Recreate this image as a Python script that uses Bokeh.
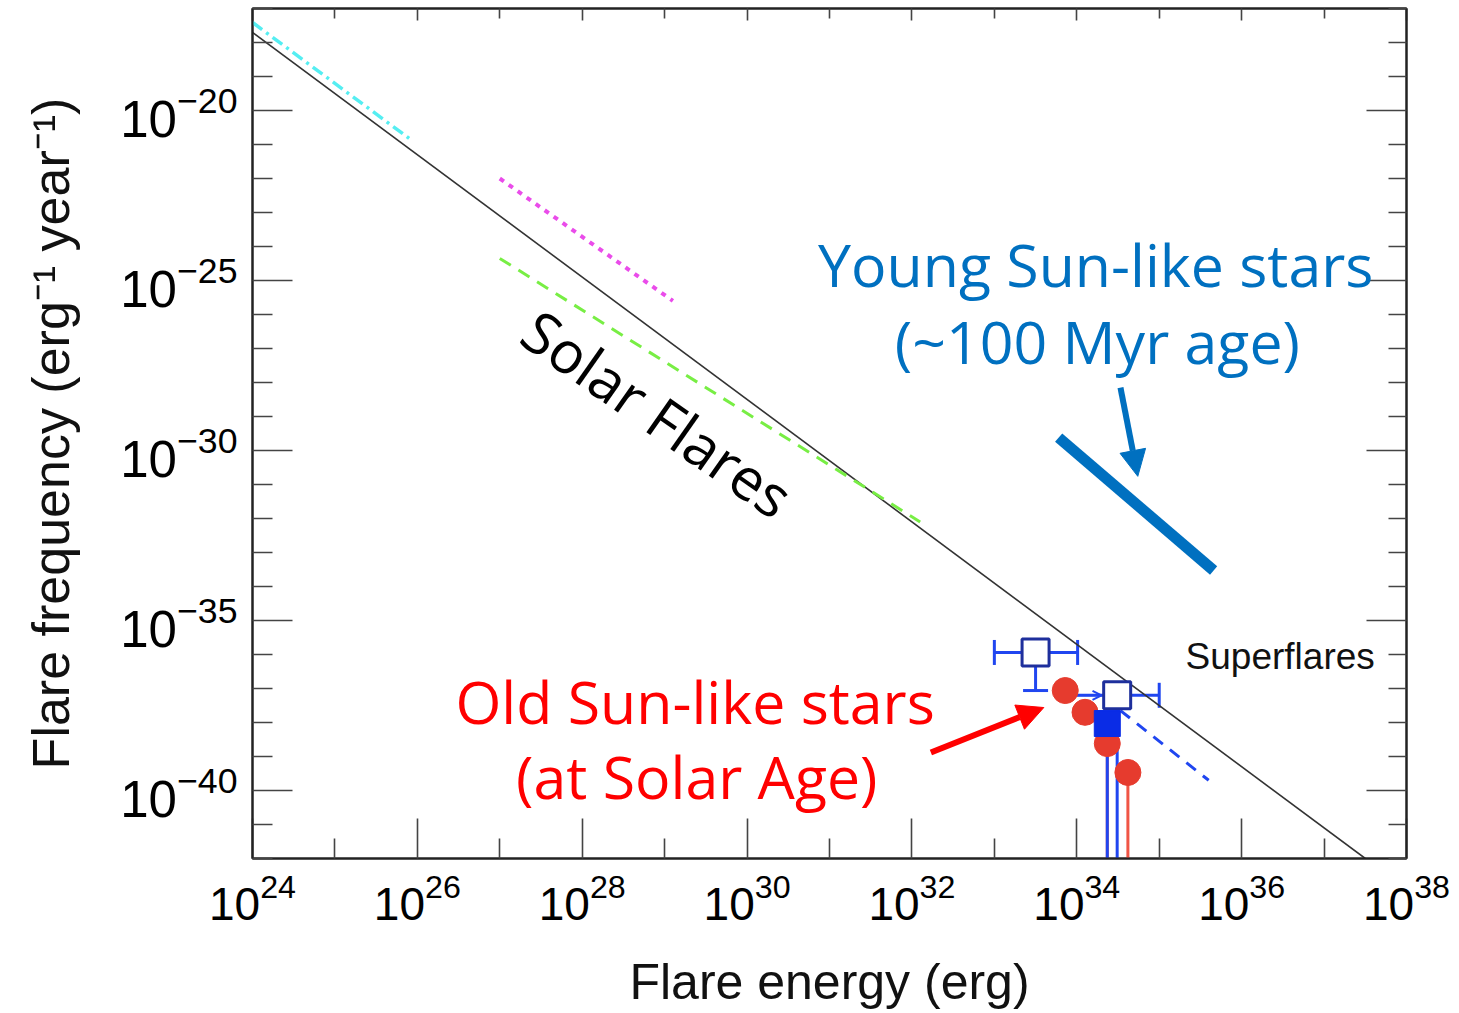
from bokeh.plotting import figure
from bokeh.models import (LogAxis, FixedTicker, CustomJSTickFormatter, LogTickFormatter, Whisker,
                          ColumnDataSource, Arrow, NormalHead, OpenHead, TeeHead, Label, Range1d)
from bokeh.embed import file_html
from bokeh.resources import INLINE

# ---------------- tick positions (decade exponents) ----------------
x_major_exp = [24, 26, 28, 30, 32, 34, 36, 38]
x_minor_exp = [25, 27, 29, 31, 33, 35, 37]
y_major_exp = [-20, -25, -30, -35, -40]
y_minor_exp = [-42, -41, -39, -38, -37, -36, -34, -33, -32, -31, -29, -28, -27, -26,
               -24, -23, -22, -21, -19, -18, -17]

# ---------------- power-law lines (log10 E, log10 F endpoints) ----------------
solar_logE = [24.0, 37.5]
solar_logF = [-17.7, -42.0]
cyan_logE = [24.0, 25.9]
cyan_logF = [-17.41, -20.82]
magenta_logE = [27.0, 29.1]
magenta_logF = [-22.0, -25.6]
green_logE = [27.0, 32.1]
green_logF = [-24.35, -32.1]
young_logE = [33.78, 35.66]
young_logF = [-29.62, -33.53]
bluedash_logE = [34.53, 35.6]
bluedash_logF = [-37.65, -39.7]

# ---------------- data points ----------------
open_logE = [33.5, 34.49]
open_logF = [-35.94, -37.2]
open_xlo = [33.0, 34.0]
open_xhi = [34.01, 35.0]
open_ylo = [-37.06, -43.0]
filled_logE = [34.37]
filled_logF = [-38.03]
filled_ylo = [-43.0]
red_logE = [33.86, 34.10, 34.37, 34.62]
red_logF = [-37.06, -37.70, -38.62, -39.47]
red_err_idx = [2, 3]
red_ylo = [-43.0, -43.0]

# ---------------- annotation text ----------------
young_text = ["Young Sun-like stars", "(~100 Myr age)"]
young_pos = [(34.23, -24.52), (34.25, -26.78)]
old_text = ["Old Sun-like stars", "(at Solar Age)"]
old_pos = [(29.37, -37.38), (29.39, -39.58)]
solar_text = "Solar Flares"
solar_pos = (28.92, -28.9)
super_text = "Superflares"
super_pos = (35.32, -36.06)
young_arrow = [(34.53, -28.15), (34.74, -30.76)]
old_arrow = [(32.23, -38.88), (33.60, -37.56)]


def p10(a):
    return [10 ** v for v in a]


BLUE_TXT = "#0070C0"
BLUE_ERR = "#2046F0"
BLUE_EDGE = "#1E2F9C"
RED_PT = "#E63B2E"

p = figure(width=1455, height=1012, x_axis_type="log", y_axis_type="log",
           x_range=Range1d(1e24, 1e38), y_range=Range1d(1e-42, 1e-17),
           output_backend="svg", toolbar_location=None, tools="",
           min_border_left=252, min_border_right=49, min_border_top=8, min_border_bottom=0,
           background_fill_color="white", border_fill_color="white")
p.grid.visible = False
p.outline_line_color = "#222222"
p.outline_line_width = 2

blank = CustomJSTickFormatter(code="return '';")

xt = FixedTicker(ticks=p10(x_major_exp), minor_ticks=p10(x_minor_exp))
yt = FixedTicker(ticks=p10(y_major_exp), minor_ticks=p10(y_minor_exp))


def style_axis(ax, major_in, minor_in):
    ax.major_tick_in = major_in
    ax.major_tick_out = 0
    ax.minor_tick_in = minor_in
    ax.minor_tick_out = 0
    ax.major_tick_line_color = "#444444"
    ax.minor_tick_line_color = "#444444"
    ax.major_tick_line_width = 1.6
    ax.minor_tick_line_width = 1.6
    ax.axis_line_color = "#222222"
    ax.axis_line_width = 2


xa = p.xaxis[0]
xa.ticker = xt
xa.formatter = LogTickFormatter()
style_axis(xa, 40, 20)
xa.major_label_text_font = "Liberation Sans"
xa.major_label_text_font_size = "46px"
xa.major_label_text_color = "black"
xa.major_label_standoff = 14
xa.axis_label = "Flare energy (erg)"
xa.axis_label_text_font = "Liberation Sans"
xa.axis_label_text_font_size = "50px"
xa.axis_label_text_font_style = "normal"
xa.axis_label_text_color = "#111111"
xa.axis_label_standoff = 31

ya = p.yaxis[0]
ya.ticker = yt
ya.formatter = LogTickFormatter()
style_axis(ya, 40, 20)
ya.major_label_text_font = "Liberation Sans"
ya.major_label_text_font_size = "51px"
ya.major_label_text_color = "black"
ya.major_label_standoff = 15
ya.axis_label = "Flare frequency (erg\u207b\u00b9 year\u207b\u00b9)"
ya.axis_label_text_font = "Liberation Sans"
ya.axis_label_text_font_size = "52px"
ya.axis_label_text_font_style = "normal"
ya.axis_label_text_color = "#111111"
ya.axis_label_standoff = 37

top = LogAxis(ticker=FixedTicker(ticks=p10(x_major_exp), minor_ticks=p10(x_minor_exp)),
              formatter=blank, major_label_text_font_size="0px", major_label_standoff=0)
style_axis(top, 12, 10)
p.add_layout(top, "above")
right = LogAxis(ticker=FixedTicker(ticks=p10(y_major_exp), minor_ticks=p10(y_minor_exp)),
                formatter=blank, major_label_text_font_size="0px", major_label_standoff=0)
style_axis(right, 40, 18)
p.add_layout(right, "right")

# ---------------- lines ----------------
p.line(p10(solar_logE), p10(solar_logF), line_color="#333333", line_width=1.6)
p.line(p10(cyan_logE), p10(cyan_logF), line_color="#55EEF2", line_width=3.5,
       line_dash="12 5 3 5")
p.line(p10(magenta_logE), p10(magenta_logF), line_color="#EA4CEA", line_width=4,
       line_dash="5 6")
p.line(p10(green_logE), p10(green_logF), line_color="#78EE44", line_width=3,
       line_dash="13 9")
p.line(p10(young_logE), p10(young_logF), line_color=BLUE_TXT, line_width=11,
       line_cap="butt")
p.line(p10(bluedash_logE), p10(bluedash_logF), line_color=BLUE_ERR, line_width=3,
       line_dash="12 9")


# ---------------- error bars ----------------
def tee(c):
    return TeeHead(size=25, line_color=c, line_width=3)


ey3 = ColumnDataSource(dict(base=[10 ** red_logE[i] for i in red_err_idx],
                            lo=p10(red_ylo),
                            hi=[10 ** red_logF[i] for i in red_err_idx]))
p.add_layout(Whisker(source=ey3, base="base", lower="lo", upper="hi", dimension="height",
                     line_color="#F05545", line_width=3, lower_head=None,
                     upper_head=None, level="underlay"))
ex1 = ColumnDataSource(dict(base=[10 ** open_logF[0]], lo=[10 ** open_xlo[0]], hi=[10 ** open_xhi[0]]))
p.add_layout(Whisker(source=ex1, base="base", lower="lo", upper="hi", dimension="width",
                     line_color=BLUE_ERR, line_width=3, lower_head=tee(BLUE_ERR),
                     upper_head=tee(BLUE_ERR), level="underlay"))
ex2 = ColumnDataSource(dict(base=[10 ** open_logF[1]], lo=[10 ** open_xlo[1]], hi=[10 ** open_xhi[1]]))
p.add_layout(Whisker(source=ex2, base="base", lower="lo", upper="hi", dimension="width",
                     line_color=BLUE_ERR, line_width=3, lower_head=None,
                     upper_head=tee(BLUE_ERR), level="underlay"))
ey1 = ColumnDataSource(dict(base=[10 ** open_logE[0]], lo=[10 ** open_ylo[0]], hi=[10 ** open_logF[0]]))
p.add_layout(Whisker(source=ey1, base="base", lower="lo", upper="hi", dimension="height",
                     line_color=BLUE_ERR, line_width=3, lower_head=tee(BLUE_ERR),
                     upper_head=None, level="underlay"))
ey2 = ColumnDataSource(dict(base=[10 ** open_logE[1], 10 ** filled_logE[0]],
                            lo=[10 ** open_ylo[1], 10 ** filled_ylo[0]],
                            hi=[10 ** open_logF[1], 10 ** filled_logF[0]]))
p.add_layout(Whisker(source=ey2, base="base", lower="lo", upper="hi", dimension="height",
                     line_color=BLUE_ERR, line_width=3, lower_head=None,
                     upper_head=None, level="underlay"))
p.add_layout(Arrow(x_start=10 ** open_xlo[1], y_start=10 ** open_logF[1],
                   x_end=10 ** (open_xlo[1] + 0.3), y_end=10 ** open_logF[1],
                   line_color=BLUE_ERR, line_width=2,
                   end=OpenHead(size=9, line_color=BLUE_ERR, line_width=2), level="underlay"))

# ---------------- points ----------------
p.scatter(p10(red_logE), p10(red_logF), marker="circle", size=26,
          fill_color=RED_PT, line_color=RED_PT)
p.scatter(p10(open_logE), p10(open_logF), marker="square", size=27,
          fill_color="white", line_color=BLUE_EDGE, line_width=3)
p.scatter(p10(filled_logE), p10(filled_logF), marker="square", size=26,
          fill_color="#0A2CE6", line_color="#0A2CE6")

# ---------------- annotations ----------------
for t, (lx, ly) in zip(young_text, young_pos):
    p.add_layout(Label(x=10 ** lx, y=10 ** ly, text=t, text_font="Open Sans",
                       text_font_size="59px", text_color=BLUE_TXT, text_align="center",
                       text_baseline="alphabetic"))
for t, (lx, ly) in zip(old_text, old_pos):
    p.add_layout(Label(x=10 ** lx, y=10 ** ly, text=t, text_font="Open Sans",
                       text_font_size="59px", text_color="#FF0000", text_align="center",
                       text_baseline="alphabetic"))
p.add_layout(Label(x=10 ** solar_pos[0], y=10 ** solar_pos[1], text=solar_text,
                   text_font="Open Sans", text_font_size="58px", text_color="black",
                   text_align="center", text_baseline="middle", angle=-0.61))
p.add_layout(Label(x=10 ** super_pos[0], y=10 ** super_pos[1], text=super_text,
                   text_font="Liberation Sans", text_font_size="37px", text_color="#111111",
                   text_align="left", text_baseline="alphabetic"))

p.add_layout(Arrow(x_start=10 ** young_arrow[0][0], y_start=10 ** young_arrow[0][1],
                   x_end=10 ** young_arrow[1][0], y_end=10 ** young_arrow[1][1],
                   line_color=BLUE_TXT, line_width=6,
                   end=NormalHead(size=26, fill_color=BLUE_TXT, line_color=BLUE_TXT)))
p.add_layout(Arrow(x_start=10 ** old_arrow[0][0], y_start=10 ** old_arrow[0][1],
                   x_end=10 ** old_arrow[1][0], y_end=10 ** old_arrow[1][1],
                   line_color="#FF0000", line_width=6,
                   end=NormalHead(size=26, fill_color="#FF0000", line_color="#FF0000")))

open("out.html", "w").write(file_html(p, INLINE))
